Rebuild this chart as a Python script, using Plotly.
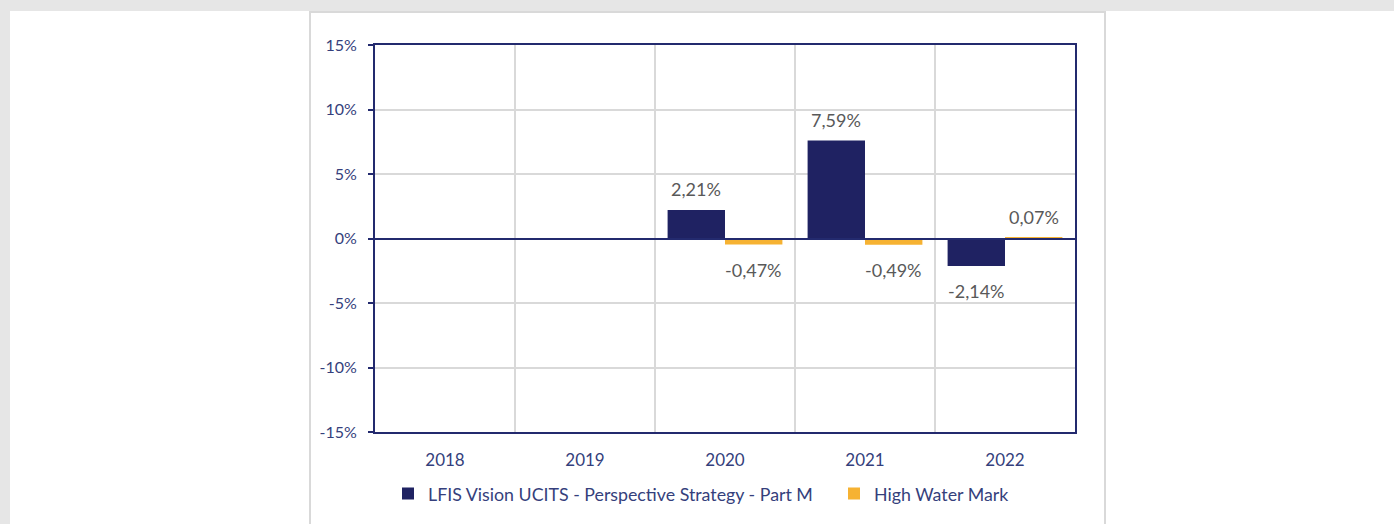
import plotly.graph_objects as go

categories = ["2018", "2019", "2020", "2021", "2022"]
part_m = [None, None, 2.21, 7.59, -2.14]
hwm = [None, None, -0.47, -0.49, 0.07]
series_names = ["LFIS Vision UCITS - Perspective Strategy - Part M", "High Water Mark"]
y_ticks = [-15, -10, -5, 0, 5, 10, 15]
y_tick_labels = ["-15%", "-10%", "-5%", "0%", "5%", "10%", "15%"]

NAVY = "#1f2262"
ORANGE = "#f6b232"
AXIS = "#232a6e"
TICKTXT = "#353f7c"
LABEL = "#595959"
GRID = "#d9d9d9"
FONT = "Lato, 'Open Sans', sans-serif"

W, H = 1394, 524
L, R, T, B = 375, 1075, 45, 432


def px_x(px):
    return (px - L) / (R - L)


def px_y(py):
    return (B - py) / (B - T)


def fmt(v):
    return f"{v:.2f}".replace(".", ",") + "%"


fig = go.Figure()
fig.add_trace(go.Bar(x=categories, y=part_m, name=series_names[0], marker_color=NAVY,
                     marker_line_width=0, offsetgroup="a", legend="legend"))
fig.add_trace(go.Bar(x=categories, y=hwm, name=series_names[1], marker_color=ORANGE,
                     marker_line_width=0, offsetgroup="b", legend="legend2"))

annotations = []
for series, off in ((part_m, -0.205), (hwm, 0.205)):
    for i, v in enumerate(series):
        if v is None:
            continue
        annotations.append(dict(
            x=i + off, y=v, xref="x", yref="y", text=fmt(v), showarrow=False,
            yanchor="bottom" if v >= 0 else "top",
            yshift=8 if v >= 0 else -12,
            font=dict(family=FONT, size=18, color=LABEL),
        ))

shapes = [
    dict(type="rect", xref="paper", yref="paper", x0=px_x(10), x1=px_x(W + 5),
         y0=px_y(H + 5), y1=px_y(11), fillcolor="white", line_width=0, layer="below"),
    dict(type="rect", xref="paper", yref="paper", x0=px_x(310), x1=px_x(1105),
         y0=px_y(H + 10), y1=px_y(12), fillcolor="white",
         line=dict(color=GRID, width=2), layer="below"),
]

legend_common = dict(orientation="h", xanchor="left", y=px_y(494), yanchor="middle",
                     font=dict(family=FONT, size=17.8, color=TICKTXT),
                     bgcolor="rgba(0,0,0,0)", itemclick=False, itemdoubleclick=False)

fig.update_layout(
    width=W, height=H,
    margin=dict(l=L, r=W - R, t=T, b=H - B, pad=0),
    paper_bgcolor="#e6e6e6",
    plot_bgcolor="white",
    barmode="group",
    bargap=0.18,
    bargroupgap=0,
    font=dict(family=FONT, size=16, color=TICKTXT),
    showlegend=True,
    legend=dict(x=px_x(388), **legend_common),
    legend2=dict(x=px_x(834), **legend_common),
    annotations=annotations,
    shapes=shapes,
    xaxis=dict(
        type="category", categoryorder="array", categoryarray=categories,
        tickson="boundaries", showgrid=True, gridcolor=GRID, gridwidth=1.5,
        showline=True, linecolor=AXIS, linewidth=2, mirror=True,
        ticks="", ticklabelstandoff=12,
        tickfont=dict(family=FONT, size=17, color=TICKTXT),
        range=[-0.5, 4.5], fixedrange=True,
    ),
    yaxis=dict(
        range=[-15, 15], tickvals=y_ticks, ticktext=y_tick_labels,
        showgrid=True, gridcolor=GRID, gridwidth=1.5,
        zeroline=True, zerolinecolor=AXIS, zerolinewidth=1.5,
        showline=True, linecolor=AXIS, linewidth=2, mirror=True,
        ticks="outside", ticklen=5, tickwidth=1.5, tickcolor=AXIS,
        ticklabelstandoff=8,
        tickfont=dict(family=FONT, size=16, color=TICKTXT),
        fixedrange=True,
    ),
)

try:
    fig.update_yaxes(zerolinelayer="above traces")
except Exception:
    pass

fig.write_html("out.html")
